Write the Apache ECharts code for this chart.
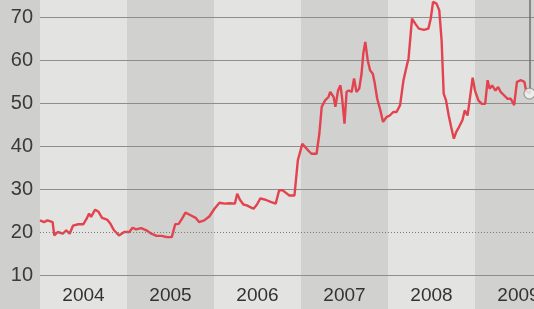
<!DOCTYPE html>
<html>
<head>
<meta charset="utf-8">
<script src="https://cdn.jsdelivr.net/npm/echarts@6/dist/echarts.min.js"></script>
<style>html,body{margin:0;padding:0;background:#cfcfcd}#c{width:534px;height:309px}</style>
</head>
<body>
<div id="c"></div>
<script>
// Year labels (category bands)
var yearLabels = ['2004', '2005', '2006', '2007', '2008', '2009'];
// Y-axis ticks
var yTicks = [10, 20, 30, 40, 50, 60, 70];
// Time positions as decimal years
var times = [
  2004.000, 2004.047, 2004.086, 2004.145, 2004.164, 2004.204, 2004.262, 2004.301, 2004.341, 2004.380,
  2004.439, 2004.497, 2004.536, 2004.564, 2004.587, 2004.634, 2004.673, 2004.713, 2004.771, 2004.810,
  2004.850, 2004.908, 2004.967, 2005.026, 2005.065, 2005.104, 2005.163, 2005.222, 2005.280, 2005.339,
  2005.398, 2005.457, 2005.515, 2005.554, 2005.594, 2005.633, 2005.672, 2005.731, 2005.789, 2005.828,
  2005.887, 2005.946, 2006.005, 2006.063, 2006.122, 2006.181, 2006.240, 2006.267, 2006.298, 2006.338,
  2006.377, 2006.416, 2006.455, 2006.494, 2006.533, 2006.592, 2006.651, 2006.709, 2006.749, 2006.788,
  2006.827, 2006.866, 2006.925, 2006.964, 2007.015, 2007.034, 2007.081, 2007.121, 2007.179, 2007.211,
  2007.238, 2007.277, 2007.316, 2007.336, 2007.375, 2007.395, 2007.426, 2007.453, 2007.473, 2007.500,
  2007.524, 2007.551, 2007.583, 2007.610, 2007.637, 2007.669, 2007.696, 2007.716, 2007.739, 2007.767,
  2007.794, 2007.825, 2007.845, 2007.876, 2007.912, 2007.943, 2007.982, 2008.021, 2008.060, 2008.099,
  2008.139, 2008.178, 2008.217, 2008.236, 2008.276, 2008.315, 2008.354, 2008.413, 2008.464, 2008.491,
  2008.518, 2008.558, 2008.589, 2008.616, 2008.640, 2008.667, 2008.698, 2008.726, 2008.757, 2008.785,
  2008.816, 2008.855, 2008.883, 2008.914, 2008.933, 2008.973, 2009.000, 2009.039, 2009.078, 2009.117,
  2009.145, 2009.168, 2009.196, 2009.235, 2009.266, 2009.294, 2009.333, 2009.372, 2009.411, 2009.450,
  2009.482, 2009.529, 2009.568, 2009.587, 2009.626
];
// Series values
var values = [
  22.7, 22.3, 22.7, 22.3, 19.2, 20.0, 19.6, 20.4, 19.6, 21.5,
  21.8, 21.8, 23.1, 24.3, 23.5, 25.2, 24.7, 23.3, 22.9, 21.9,
  20.4, 19.2, 20.0, 20.0, 21.0, 20.6, 20.9, 20.4, 19.6, 19.1,
  19.1, 18.8, 18.8, 21.8, 21.9, 23.1, 24.5, 23.9, 23.3, 22.3,
  22.7, 23.6, 25.4, 26.8, 26.6, 26.7, 26.6, 28.9, 27.5, 26.4,
  26.2, 25.8, 25.4, 26.4, 27.8, 27.5, 27.0, 26.6, 29.7, 29.7,
  29.1, 28.5, 28.5, 36.7, 40.5, 40.9, 39.0, 38.2, 38.2, 42.9,
  49.1, 50.6, 51.4, 52.6, 51.4, 49.1, 52.9, 54.1, 51.0, 45.2,
  52.6, 52.9, 52.6, 55.7, 52.6, 53.3, 56.8, 61.5, 64.2, 59.9,
  57.6, 56.8, 54.9, 51.0, 48.3, 45.6, 46.7, 47.1, 47.9, 47.9,
  49.5, 55.3, 58.8, 60.3, 69.6, 68.4, 67.3, 67.0, 67.3, 69.6,
  73.5, 73.1, 71.6, 64.6, 52.2, 50.6, 47.1, 44.4, 41.7, 43.3,
  44.4, 46.0, 48.3, 47.1, 49.8, 55.9, 52.9, 50.6, 49.8, 49.8,
  55.3, 53.3, 54.1, 52.9, 53.7, 52.6, 51.8, 51.0, 51.0, 49.5,
  54.9, 55.3, 54.9, 52.9, 52.2
];

var lineData = times.map(function (t, i) { return [t, values[i]]; });
var lastPoint = lineData[lineData.length - 1];

var chart = echarts.init(document.getElementById('c'), null, {renderer: 'canvas'});
var gridColors = ['#8e8e8c', '#8e8e8c', 'rgba(0,0,0,0)', '#8e8e8c', '#8e8e8c', '#8e8e8c', '#8e8e8c', '#8e8e8c', '#8e8e8c'];
chart.setOption({
  backgroundColor: '#cfcfcd',
  animation: false,
  grid: {left: 40, top: -26, width: 522, height: 344, containLabel: false, outerBoundsMode: 'none'},
  xAxis: [
    {
      type: 'category',
      data: yearLabels,
      boundaryGap: true,
      z: 0,
      axisLine: {show: false},
      axisTick: {show: false},
      splitLine: {show: false},
      splitArea: {show: true, areaStyle: {color: ['#e3e3e1', '#d1d1cf']}},
      axisLabel: {
        margin: -32,
        fontSize: 19,
        fontFamily: 'Liberation Sans, Arial, sans-serif',
        color: '#333333'
      }
    },
    {
      type: 'value',
      min: 2004,
      max: 2010,
      show: false
    }
  ],
  yAxis: {
    type: 'value',
    min: 0,
    max: 80,
    interval: 10,
    z: 1,
    axisLine: {show: false},
    axisTick: {show: false},
    axisLabel: {
      margin: 7,
      fontSize: 20,
      fontFamily: 'Liberation Sans, Arial, sans-serif',
      color: '#3a3a3a',
      formatter: function (v) { return yTicks.indexOf(v) >= 0 ? String(v) : ''; }
    },
    splitLine: {show: true, lineStyle: {color: gridColors, width: 1}}
  },
  series: [
    {
      type: 'line',
      xAxisIndex: 1,
      data: lineData,
      symbol: 'none',
      smooth: false,
      lineStyle: {color: '#e2434f', width: 2.4},
      markLine: {
        silent: true,
        symbol: 'none',
        label: {show: false},
        data: [
          [{coord: [2004, 20], lineStyle: {color: '#7c7c7a', width: 1, type: [1, 2]}}, {coord: [2010, 20]}],
          [{coord: [lastPoint[0] + 0.005, lastPoint[1]], lineStyle: {color: '#6f6f6d', width: 1.5, type: 'solid'}}, {coord: [lastPoint[0] + 0.005, 80]}]
        ]
      },
      z: 3
    },
    {
      type: 'scatter',
      xAxisIndex: 1,
      data: [lastPoint],
      symbol: 'circle',
      symbolSize: 11,
      itemStyle: {color: '#f4f4f2', borderColor: '#8a8a88', borderWidth: 1.2},
      z: 5
    }
  ]
});
</script>
</body>
</html>
